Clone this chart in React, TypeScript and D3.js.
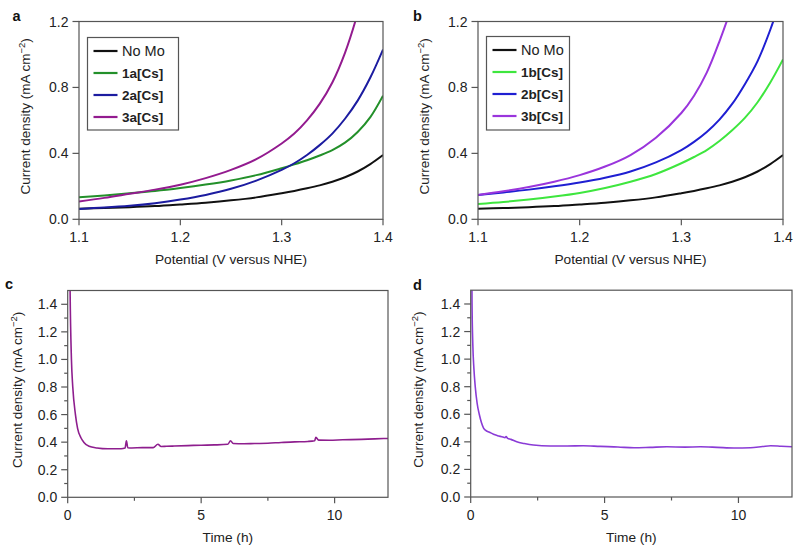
import React from "react";
import * as d3 from "d3";

// ---------- Data ----------
const potentialV = [1.1, 1.125, 1.15, 1.175, 1.2, 1.225, 1.25, 1.275, 1.3, 1.3125, 1.325, 1.3375, 1.35, 1.3625, 1.375, 1.3875, 1.4];

const noMoA = [0.064, 0.068, 0.073, 0.08, 0.09, 0.101, 0.115, 0.133, 0.158, 0.172, 0.188, 0.206, 0.228, 0.255, 0.29, 0.335, 0.39];
const s1a = [0.134, 0.145, 0.158, 0.172, 0.19, 0.211, 0.236, 0.268, 0.31, 0.333, 0.358, 0.387, 0.42, 0.465, 0.53, 0.62, 0.75];
const s2a = [0.063, 0.071, 0.082, 0.098, 0.12, 0.148, 0.185, 0.235, 0.3, 0.34, 0.39, 0.45, 0.52, 0.61, 0.72, 0.86, 1.03];
const s3a = [0.108, 0.13, 0.155, 0.18, 0.21, 0.25, 0.3, 0.365, 0.46, 0.52, 0.6, 0.7, 0.83, 1.01, 1.25, 1.55, 1.9];

const noMoB = [0.064, 0.068, 0.073, 0.08, 0.09, 0.101, 0.115, 0.133, 0.158, 0.172, 0.188, 0.206, 0.228, 0.255, 0.29, 0.335, 0.39];
const s1b = [0.093, 0.105, 0.12, 0.138, 0.16, 0.19, 0.228, 0.275, 0.34, 0.378, 0.42, 0.475, 0.54, 0.615, 0.71, 0.83, 0.97];
const s2b = [0.148, 0.163, 0.18, 0.2, 0.223, 0.252, 0.29, 0.345, 0.42, 0.47, 0.53, 0.605, 0.7, 0.82, 0.96, 1.15, 1.38];
const s3b = [0.148, 0.17, 0.196, 0.228, 0.268, 0.32, 0.39, 0.495, 0.645, 0.75, 0.89, 1.08, 1.3, 1.58, 1.9, 2.3, 2.75];

const labelsA = ["No Mo", "1a[Cs]", "2a[Cs]", "3a[Cs]"];
const labelsB = ["No Mo", "1b[Cs]", "2b[Cs]", "3b[Cs]"];
const colorsA = ["#111111", "#23902a", "#1c1ca0", "#931b8f"];
const colorsB = ["#111111", "#3ee63e", "#1f1fd2", "#9a35dc"];

const timeC = [0.05, 0.09, 0.14, 0.19, 0.29, 0.37, 0.5, 0.6, 0.8, 1.1, 1.5, 2.0, 2.15, 2.2, 2.25, 2.4, 2.8, 3.2, 3.38, 3.5, 3.7, 4.0, 4.5, 5.0, 5.5, 6.0, 6.1, 6.2, 6.6, 7.0, 7.5, 8.0, 8.5, 9.0, 9.25, 9.3, 9.4, 9.8, 10.3, 11.0, 11.5, 12.0];
const currentC = [2.5, 1.5, 1.0, 0.8, 0.6, 0.5, 0.43, 0.4, 0.37, 0.358, 0.352, 0.352, 0.357, 0.41, 0.36, 0.358, 0.36, 0.36, 0.385, 0.368, 0.37, 0.372, 0.375, 0.378, 0.38, 0.385, 0.41, 0.39, 0.388, 0.39, 0.392, 0.398, 0.402, 0.405, 0.41, 0.435, 0.415, 0.414, 0.417, 0.42, 0.424, 0.427];

const timeD = [0.02, 0.05, 0.08, 0.12, 0.17, 0.24, 0.32, 0.4, 0.48, 0.55, 0.7, 0.85, 1.0, 1.2, 1.28, 1.32, 1.38, 1.5, 1.72, 2.0, 2.34, 2.97, 3.6, 4.2, 4.84, 5.5, 6.1, 6.7, 7.33, 8.0, 8.58, 9.2, 9.83, 10.45, 10.9, 11.2, 11.6, 12.0];
const currentD = [2.5, 1.4, 1.1, 0.93, 0.8, 0.68, 0.6, 0.54, 0.5, 0.485, 0.47, 0.455, 0.445, 0.435, 0.43, 0.438, 0.425, 0.418, 0.4, 0.388, 0.377, 0.37, 0.37, 0.372, 0.367, 0.363, 0.357, 0.36, 0.364, 0.362, 0.364, 0.36, 0.355, 0.357, 0.366, 0.372, 0.368, 0.364];

const ticksLSV = [1.1, 1.2, 1.3, 1.4];
const ticksLSVy = [0, 0.4, 0.8, 1.2];
const ticksTime = [0, 5, 10];
const ticksTimeMinor = [2.5, 7.5];
const ticksCur = [0, 0.2, 0.4, 0.6, 0.8, 1.0, 1.2, 1.4];
const ticksCurMinor = [0.1, 0.3, 0.5, 0.7, 0.9, 1.1, 1.3];

const FONT = "'Liberation Sans', Arial, Helvetica, sans-serif";
const AX = "#555";
const TXT = "#222";

type Series = { xs: number[]; ys: number[]; color: string; width: number };

function Panel(props: {
  id: string;
  letter: string;
  letterX: number;
  letterY: number;
  left: number;
  right: number;
  top: number;
  bottom: number;
  xDomain: [number, number];
  yDomain: [number, number];
  xTicks: number[];
  xMinor?: number[];
  yTicks: number[];
  yMinor?: number[];
  xFmt: (v: number) => string;
  yFmt: (v: number) => string;
  xTitle: string;
  yTitleX: number;
  series: Series[];
  legend?: { labels: string[]; colors: string[]; x: number; y: number; w: number; h: number };
  yTickGap: number;
  smooth: boolean;
}) {
  const p = props;
  const x = d3.scaleLinear().domain(p.xDomain).range([p.left, p.right]);
  const y = d3.scaleLinear().domain(p.yDomain).range([p.bottom, p.top]);
  const line = d3
    .line<[number, number]>()
    .x((d) => x(d[0]))
    .y((d) => y(d[1]))
    .curve(p.smooth ? d3.curveCatmullRom.alpha(0.5) : d3.curveMonotoneX);
  const clipId = "clip-" + p.id;
  const midY = (p.top + p.bottom) / 2;
  return (
    <g>
      <defs>
        <clipPath id={clipId}>
          <rect x={p.left} y={p.top} width={p.right - p.left} height={p.bottom - p.top} />
        </clipPath>
      </defs>
      <text x={p.letterX} y={p.letterY} fontFamily={FONT} fontWeight="bold" fontSize={14.5} fill="#111">
        {p.letter}
      </text>
      <g clipPath={`url(#${clipId})`}>
        {p.series.map((s, i) => (
          <path
            key={i}
            d={line(s.xs.map((v, k) => [v, s.ys[k]] as [number, number])) || ""}
            fill="none"
            stroke={s.color}
            strokeWidth={s.width}
            strokeLinejoin="round"
          />
        ))}
      </g>
      <rect
        x={p.left}
        y={p.top}
        width={p.right - p.left}
        height={p.bottom - p.top}
        fill="none"
        stroke={AX}
        strokeWidth={1.2}
      />
      {p.xTicks.map((t) => (
        <g key={"xt" + t}>
          <line x1={x(t)} x2={x(t)} y1={p.bottom} y2={p.bottom + 6} stroke={AX} strokeWidth={1.2} />
          <text x={x(t)} y={p.bottom + 22.5} textAnchor="middle" fontFamily={FONT} fontSize={14} fill={TXT}>
            {p.xFmt(t)}
          </text>
        </g>
      ))}
      {(p.xMinor || []).map((t) => (
        <line key={"xm" + t} x1={x(t)} x2={x(t)} y1={p.bottom} y2={p.bottom + 3.5} stroke={AX} strokeWidth={1.2} />
      ))}
      {p.yTicks.map((t) => (
        <g key={"yt" + t}>
          <line x1={p.left - 6.5} x2={p.left} y1={y(t)} y2={y(t)} stroke={AX} strokeWidth={1.2} />
          <text
            x={p.left - p.yTickGap}
            y={y(t) + 5}
            textAnchor="end"
            fontFamily={FONT}
            fontSize={14}
            fill={TXT}
          >
            {p.yFmt(t)}
          </text>
        </g>
      ))}
      {(p.yMinor || []).map((t) => (
        <line key={"ym" + t} x1={p.left - 3.5} x2={p.left} y1={y(t)} y2={y(t)} stroke={AX} strokeWidth={1.2} />
      ))}
      <text
        x={(p.left + p.right) / 2}
        y={p.bottom + 44.5}
        textAnchor="middle"
        fontFamily={FONT}
        fontSize={13.7}
        fill={TXT}
      >
        {p.xTitle}
      </text>
      <text
        transform={`translate(${p.yTitleX},${midY - 4}) rotate(-90)`}
        textAnchor="middle"
        fontFamily={FONT}
        fontSize={13.5}
        fill={TXT}
      >
        Current density (mA cm
        <tspan dy={-5} fontSize={9.5}>
          −2
        </tspan>
        <tspan dy={5}>)</tspan>
      </text>
      {p.legend && (
        <g>
          <rect
            x={p.legend.x}
            y={p.legend.y}
            width={p.legend.w}
            height={p.legend.h}
            fill="#fff"
            stroke={AX}
            strokeWidth={1.2}
          />
          {p.legend.labels.map((lab, i) => {
            const ry = p.legend!.y + 13.5 + i * 22;
            return (
              <g key={lab}>
                <line
                  x1={p.legend!.x + 6}
                  x2={p.legend!.x + 30}
                  y1={ry}
                  y2={ry}
                  stroke={p.legend!.colors[i]}
                  strokeWidth={2.2}
                />
                <text
                  x={p.legend!.x + 34.5}
                  y={ry + 5.2}
                  fontFamily={FONT}
                  fontSize={i === 0 ? 14.5 : 13.5}
                  fontWeight={i === 0 ? "normal" : "bold"}
                  fill={TXT}
                >
                  {lab}
                </text>
              </g>
            );
          })}
        </g>
      )}
    </g>
  );
}

export default function App() {
  const f1 = (v: number) => v.toFixed(1);
  const f0 = (v: number) => String(v);
  const seriesA: Series[] = [noMoA, s1a, s2a, s3a].map((ys, i) => ({
    xs: potentialV,
    ys,
    color: colorsA[i],
    width: 2,
  }));
  const seriesB: Series[] = [noMoB, s1b, s2b, s3b].map((ys, i) => ({
    xs: potentialV,
    ys,
    color: colorsB[i],
    width: 2,
  }));
  return (
    <svg width={800} height={553} style={{ position: "absolute", left: 0, top: 0, background: "#fff" }}>
      <rect x={0} y={0} width={800} height={553} fill="#fff" />
      <Panel
        id="a"
        letter="a"
        letterX={12.5}
        letterY={20.5}
        left={79}
        right={383}
        top={21.5}
        bottom={219.3}
        xDomain={[1.1, 1.4]}
        yDomain={[0, 1.2]}
        xTicks={ticksLSV}
        yTicks={ticksLSVy}
        xFmt={f1}
        yFmt={f1}
        xTitle="Potential (V versus NHE)"
        yTitleX={30}
        series={seriesA}
        legend={{ labels: labelsA, colors: colorsA, x: 87.5, y: 37.5, w: 91, h: 92.5 }}
        yTickGap={10.5}
        smooth={true}
      />
      <Panel
        id="b"
        letter="b"
        letterX={413}
        letterY={20.5}
        left={478}
        right={783}
        top={21.5}
        bottom={219.3}
        xDomain={[1.1, 1.4]}
        yDomain={[0, 1.2]}
        xTicks={ticksLSV}
        yTicks={ticksLSVy}
        xFmt={f1}
        yFmt={f1}
        xTitle="Potential (V versus NHE)"
        yTitleX={429}
        series={seriesB}
        legend={{ labels: labelsB, colors: colorsB, x: 486.5, y: 36.5, w: 83, h: 93.5 }}
        yTickGap={10.5}
        smooth={true}
      />
      <Panel
        id="c"
        letter="c"
        letterX={5}
        letterY={289}
        left={67.7}
        right={388}
        top={290.5}
        bottom={497.3}
        xDomain={[0, 12]}
        yDomain={[0, 1.5]}
        xTicks={ticksTime}
        xMinor={ticksTimeMinor}
        yTicks={ticksCur}
        yMinor={ticksCurMinor}
        xFmt={f0}
        yFmt={f1}
        xTitle="Time (h)"
        yTitleX={22}
        series={[{ xs: timeC, ys: currentC, color: "#8e1e8e", width: 1.6 }]}
        yTickGap={10.5}
        smooth={false}
      />
      <Panel
        id="d"
        letter="d"
        letterX={413}
        letterY={289.5}
        left={470.7}
        right={792}
        top={290.2}
        bottom={497}
        xDomain={[0, 12]}
        yDomain={[0, 1.5]}
        xTicks={ticksTime}
        xMinor={ticksTimeMinor}
        yTicks={ticksCur}
        yMinor={ticksCurMinor}
        xFmt={f0}
        yFmt={f1}
        xTitle="Time (h)"
        yTitleX={423}
        series={[{ xs: timeD, ys: currentD, color: "#8a3bd6", width: 1.6 }]}
        yTickGap={10.5}
        smooth={false}
      />
    </svg>
  );
}
